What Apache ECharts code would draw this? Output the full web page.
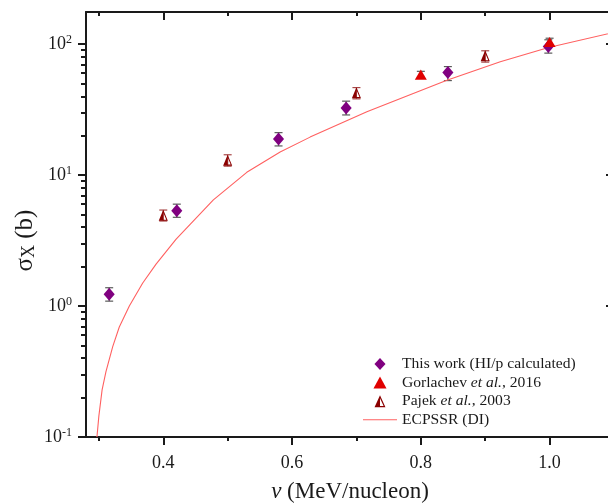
<!DOCTYPE html>
<html><head><meta charset="utf-8">
<script src="https://cdn.jsdelivr.net/npm/echarts@6/dist/echarts.min.js"></script>
<style>html,body{margin:0;padding:0;background:#fff}#c{width:608px;height:504px}</style>
</head><body><div id="c"></div>
<script>
// ---- data ----
const thisWorkX  = [0.316, 0.421, 0.579, 0.684, 0.842, 0.998];
const thisWorkY  = [1.23, 5.35, 18.9, 32.6, 60.7, 96];
const thisWorkLo = [1.09, 4.76, 16.7, 28.8, 52.7, 85.4];
const thisWorkHi = [1.38, 6.0, 21.1, 36.7, 67.4, 108];

const gorX  = [0.8, 1.0];
const gorY  = [58.5, 104];
const gorLo = [55, 97];
const gorHi = [62, 111];

const pajX  = [0.4, 0.5, 0.7, 0.9];
const pajY  = [4.93, 13.0, 42.6, 81.4];
const pajLo = [4.46, 11.7, 38.2, 72.9];
const pajHi = [5.41, 14.3, 46.6, 89];

const ecpssrX = [0.297, 0.300, 0.305, 0.311, 0.3215, 0.3317, 0.3473, 0.3681, 0.3888, 0.42, 0.4778, 0.5297, 0.5815, 0.628, 0.7162, 0.8405, 0.9234, 0.9984, 1.1];
const ecpssrY = [0.1, 0.145, 0.229, 0.316, 0.49, 0.692, 1.0, 1.5, 2.09, 3.24, 6.46, 10.5, 15.0, 19.5, 30.5, 53.1, 73.3, 94.4, 123];

const xTicks = [0.4, 0.6, 0.8, 1.0];
const xMinor = [0.3, 0.5, 0.7, 0.9, 1.1];
const yTicks = [0.1, 1, 10, 100];
const yMinor = [0.2,0.3,0.4,0.5,0.6,0.7,0.8,0.9, 2,3,4,5,6,7,8,9, 20,30,40,50,60,70,80,90];

const names = ['This work (HI/p calculated)', 'Gorlachev et al., 2016', 'Pajek et al., 2003', 'ECPSSR (DI)'];

// ---- chart ----
const FONT = 'Liberation Serif';
const INK = '#1a1a1a';
const X_MIN = 0.28, X_MAX = 1.1, Y_MIN = 0.1, Y_MAX = 176;
const gridBox = {left: 86, top: 12, right: -6, bottom: 67, containLabel: false, outerBoundsMode: 'none'};
const lineSt = {color: INK, width: 2};

function xAxisDef(grid, pos, ticks, len, inside, showLine, label) {
  return {
    gridIndex: grid, type: 'value', position: pos, min: X_MIN, max: X_MAX,
    axisLine: {show: showLine, onZero: false, lineStyle: lineSt},
    axisTick: {show: true, customValues: ticks, length: len, inside: inside, lineStyle: {color: INK, width: 2}},
    axisLabel: label ? {show: true, customValues: ticks, formatter: v => v.toFixed(1), fontFamily: FONT, fontSize: 18, color: INK, margin: 17} : {show: false},
    splitLine: {show: false}, minorTick: {show: false}
  };
}
function yAxisDef(grid, pos, ticks, len, inside, showLine, label) {
  return {
    gridIndex: grid, type: 'log', logBase: 10, position: pos, min: Y_MIN, max: Y_MAX,
    axisLine: {show: showLine, onZero: false, lineStyle: lineSt},
    axisTick: {show: true, customValues: ticks, length: len, inside: inside, lineStyle: {color: INK, width: 2}},
    axisLabel: label ? {
      show: true, customValues: ticks, margin: 14,
      formatter: v => '{b|10}{s|' + Math.round(Math.log10(v)) + '}',
      rich: {
        b: {fontFamily: FONT, fontSize: 18, color: INK},
        s: {fontFamily: FONT, fontSize: 12, color: INK, padding: [0, 0, 9, 0]}
      }
    } : {show: false},
    splitLine: {show: false}, minorTick: {show: false}
  };
}

function errSeries(xs, lo, hi, color) {
  return {
    type: 'custom', silent: true, z: 1, xAxisIndex: 0, yAxisIndex: 0,
    data: xs.map((x, i) => [x, lo[i], hi[i]]),
    encode: {x: 0, y: [1, 2]},
    renderItem(params, api) {
      const p1 = api.coord([api.value(0), api.value(1)]);
      const p2 = api.coord([api.value(0), api.value(2)]);
      const w = 4;
      const st = {stroke: color, lineWidth: 1.2};
      return {type: 'group', children: [
        {type: 'line', shape: {x1: p1[0], y1: p1[1], x2: p2[0], y2: p2[1]}, style: st},
        {type: 'line', shape: {x1: p1[0] - w, y1: p1[1], x2: p1[0] + w, y2: p1[1]}, style: st},
        {type: 'line', shape: {x1: p2[0] - w, y1: p2[1], x2: p2[0] + w, y2: p2[1]}, style: st}
      ]};
    }
  };
}

const diamondPath = 'path://M6 0 L12 6.5 L6 13 L0 6.5 Z';
const triPath = 'path://M6 0 L12 11 L0 11 Z';
const halfTriPath = 'path://M5 0 L10 11 L0 11 Z M5 2.8 L1.7 9.9 L8.3 9.9 Z M5 0 L5 11 L0 11 Z';
const lineIcon = 'path://M0 0 L34 0 L34 1.1 L0 1.1 Z';

const option = {
  animation: false,
  backgroundColor: '#ffffff',
  grid: [Object.assign({}, gridBox), Object.assign({}, gridBox)],
  xAxis: [
    Object.assign(xAxisDef(0, 'bottom', xTicks, 8, false, true, true), {
      name: '{i|v} (MeV/nucleon)', nameLocation: 'middle', nameGap: 43,
      nameTextStyle: {fontFamily: FONT, fontSize: 23, color: INK,
        rich: {i: {fontFamily: FONT, fontSize: 23, fontStyle: 'italic', color: INK}}}
    }),
    xAxisDef(0, 'top', xTicks, 8, true, true, false),
    xAxisDef(1, 'bottom', xMinor, 4, false, false, false),
    xAxisDef(1, 'top', xMinor, 4, true, false, false)
  ],
  yAxis: [
    Object.assign(yAxisDef(0, 'left', yTicks, 8, false, true, true), {
      name: '{a|σ}{x|X}{a| (b)}', nameLocation: 'middle', nameGap: 48, nameMoveOverlap: false,
      nameTextStyle: {fontFamily: FONT, fontSize: 25, color: INK, padding: [0, 32, 0, 0],
        rich: {
          a: {fontFamily: FONT, fontSize: 25, color: INK},
          x: {fontFamily: FONT, fontSize: 18, color: INK, padding: [8, 0, 0, 0]}
        }}
    }),
    yAxisDef(0, 'right', yTicks, 8, true, true, false),
    yAxisDef(1, 'left', yMinor, 5, false, false, false),
    yAxisDef(1, 'right', yMinor, 4, true, false, false)
  ],
  legend: {
    left: 363, top: 356, orient: 'vertical', selectedMode: false,
    itemWidth: 34, itemHeight: 12, itemGap: 2.6, padding: 0,
    data: [names[0], names[1], names[2], {name: names[3], icon: lineIcon}],
    formatter: n => n.replace('et al.', '{i|et al.}'),
    textStyle: {fontFamily: FONT, fontSize: 15.6, color: INK,
      rich: {i: {fontFamily: FONT, fontSize: 15.6, fontStyle: 'italic', color: INK}}}
  },
  series: [
    {
      name: names[3], type: 'line', xAxisIndex: 0, yAxisIndex: 0,
      data: ecpssrX.map((x, i) => [x, ecpssrY[i]]),
      symbol: 'none', showSymbol: false, smooth: false,
      lineStyle: {color: '#ff6060', width: 1.1}, itemStyle: {color: '#ff6060'}, z: 2
    },
    errSeries(thisWorkX, thisWorkLo, thisWorkHi, '#5a5a5a'),
    errSeries(pajX, pajLo, pajHi, '#a84848'),
    errSeries(gorX, gorLo, gorHi, '#5a5a5a'),
    {
      name: names[2], type: 'scatter', xAxisIndex: 0, yAxisIndex: 0,
      data: pajX.map((x, i) => [x, pajY[i]]),
      symbol: halfTriPath, symbolSize: [10, 11], symbolKeepAspect: true,
      itemStyle: {color: '#8b0000', opacity: 1}, z: 3
    },
    {
      name: names[0], type: 'scatter', xAxisIndex: 0, yAxisIndex: 0,
      data: thisWorkX.map((x, i) => [x, thisWorkY[i]]),
      symbol: diamondPath, symbolSize: [12, 13], symbolKeepAspect: true,
      itemStyle: {color: '#800080', opacity: 1}, z: 3
    },
    {
      name: names[1], type: 'scatter', xAxisIndex: 0, yAxisIndex: 0,
      data: gorX.map((x, i) => [x, gorY[i]]),
      symbol: triPath, symbolSize: [12, 11], symbolKeepAspect: true,
      itemStyle: {color: '#e00000', opacity: 1}, z: 4
    }
  ]
};

const chart = echarts.init(document.getElementById('c'), null, {renderer: 'canvas'});
chart.setOption(option);
</script>
</body></html>
